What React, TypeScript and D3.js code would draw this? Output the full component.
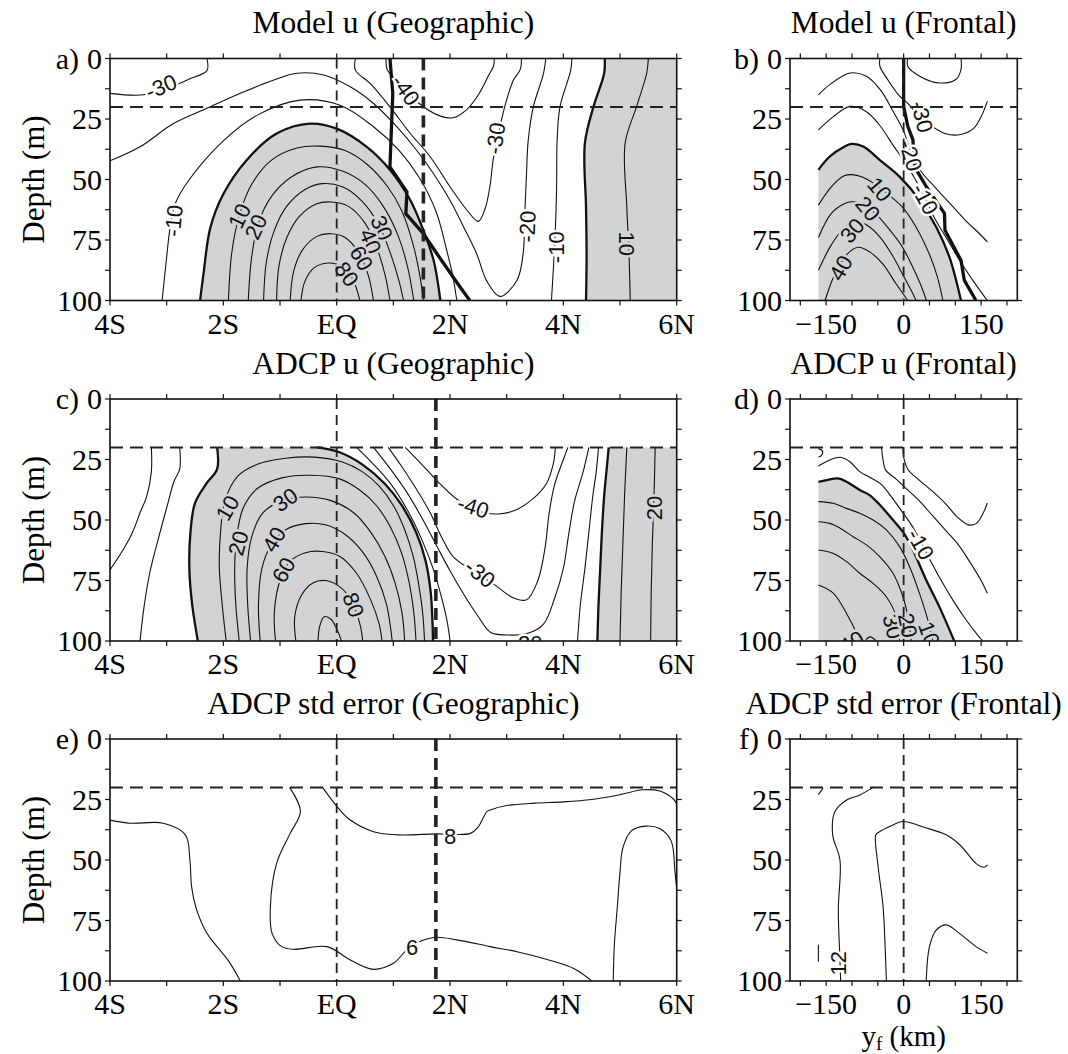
import React from "react";
import * as d3 from "d3";

type Pt = [number, number];

// ---------------- axes data ----------------
const latDomain: Pt = [-4, 6];
const kmDomain: Pt = [-220, 220];
const depthDomain: Pt = [0, 100];
const latTicks = [-4, -3, -2, -1, 0, 1, 2, 3, 4, 5, 6];
const latLabelValues = [-4, -2, 0, 2, 4, 6];
const latLabelTexts = ["4S", "2S", "EQ", "2N", "4N", "6N"];
const kmTicks = [-200, -150, -100, -50, 0, 50, 100, 150, 200];
const kmLabelValues = [-150, 0, 150];
const kmLabelTexts = ["\u2212150", "0", "150"];
const depthTicks = [0, 12.5, 25, 37.5, 50, 62.5, 75, 87.5, 100];
const depthLabelValues = [0, 25, 50, 75, 100];
const mixedLayerDepth = 20;

// ---------------- panel a: Model u (Geographic) ----------------
const aM30L: Pt[] = [[-4, 14.4], [-3.4, 15], [-2.9, 11.5], [-2.6, 8.5], [-2.29, 5], [-2.29, 0]];
const aM20: Pt[] = [[-4, 42.3], [-3.47, 36.5], [-2.88, 26.9], [-2.29, 20.6], [-1.7, 14.4], [-1.11, 8.9], [-0.7, 6.1], [-0.23, 6.8], [0.24, 11.7], [0.65, 18.6], [1.06, 28.2], [1.41, 37.9], [1.71, 47.6], [2.0, 58.6], [2.24, 69.6], [2.47, 80.7], [2.65, 92], [2.88, 98.3], [3.18, 91.7], [3.29, 80.7], [3.32, 64], [3.35, 47.5], [3.38, 33.8], [3.47, 20], [3.65, 6.1], [3.69, 0]];
const aM10L: Pt[] = [[-3.08, 100], [-3.0, 82], [-2.94, 70], [-2.85, 60], [-2.6, 50], [-2.0, 34], [-1.4, 23.4], [-0.65, 17.2], [0.06, 19.3], [0.65, 28.2], [1.1, 38], [1.45, 49], [1.75, 63], [1.95, 80], [2.05, 90], [2.12, 100]];
const a0L: Pt[] = [[-2.41, 100], [-2.35, 89], [-2.23, 70], [-2.0, 56], [-1.59, 42], [-1.06, 31], [-0.47, 26.9], [0.0, 29], [0.53, 36.5], [0.94, 46], [1.3, 58.6], [1.53, 71], [1.71, 83.4], [1.83, 100]];
const a10: Pt[] = [[-1.91, 100], [-1.85, 80], [-1.72, 65], [-1.5, 52], [-1.15, 42], [-0.7, 37], [-0.3, 36.2], [0.15, 38], [0.55, 44], [0.9, 53], [1.15, 63], [1.35, 77], [1.47, 90], [1.53, 100]];
const a20: Pt[] = [[-1.56, 100], [-1.5, 82], [-1.38, 68], [-1.15, 57], [-0.8, 49], [-0.35, 44.8], [0.1, 46.5], [0.5, 52], [0.82, 61], [1.08, 73], [1.25, 86], [1.36, 100]];
const a30: Pt[] = [[-1.29, 100], [-1.24, 84], [-1.1, 71], [-0.88, 61], [-0.55, 54], [-0.25, 51.7], [0.1, 53], [0.45, 59], [0.75, 69], [0.97, 82], [1.1, 92], [1.18, 100]];
const a40: Pt[] = [[-1.06, 100], [-1.02, 86], [-0.88, 74], [-0.65, 65], [-0.35, 60], [-0.1, 59.3], [0.2, 61], [0.5, 68], [0.72, 79], [0.86, 90], [0.94, 100]];
const a60: Pt[] = [[-0.82, 100], [-0.76, 88], [-0.6, 79], [-0.35, 73.5], [-0.1, 72.4], [0.15, 74], [0.38, 80], [0.55, 89], [0.65, 100]];
const a80: Pt[] = [[-0.63, 100], [-0.56, 92], [-0.4, 86.5], [-0.15, 84.5], [0.1, 86], [0.28, 91], [0.41, 100]];
const aM40: Pt[] = [[0.87, 0], [0.9, 5], [1.15, 11], [1.45, 18.5], [1.8, 23.5], [2.05, 24.5], [2.3, 21], [2.5, 15], [2.68, 7], [2.77, 3], [2.78, 0]];
const aM30R: Pt[] = [[0.33, 0], [0.33, 4.8], [0.59, 10.3], [0.94, 20], [1.3, 31], [1.65, 40.6], [2.0, 53], [2.3, 62.7], [2.5, 67.3], [2.62, 62], [2.71, 52], [2.76, 42], [2.88, 28.2], [3.0, 17], [3.12, 8.9], [3.24, 4.5], [3.26, 0]];
const aM10R: Pt[] = [[4.15, 0], [4.13, 4.8], [3.94, 20], [3.89, 33.8], [3.88, 54.5], [3.85, 75.2], [3.79, 100]];
const a0R: Pt[] = [[4.73, 0], [4.72, 6.1], [4.53, 20], [4.38, 35], [4.4, 61.4], [4.41, 82], [4.4, 100]];
const a10R: Pt[] = [[5.5, 0], [5.47, 6.1], [5.29, 20], [5.09, 35], [5.12, 61.4], [5.16, 82], [5.18, 100]];
const aFront: Pt[] = [[0.94, 0], [0.99, 14.4], [0.94, 44.8], [1.24, 55.1], [1.22, 64.1], [1.53, 72.4], [1.77, 80.7], [2.18, 94.5], [2.35, 100]];
const aFrontLat = 1.53;

// ---------------- panel b: Model u (Frontal) ----------------
const bM40: Pt[] = [[8, 0], [8, 3.2], [31, 7.3], [69, 10.1], [101, 8.7], [111, 4.6], [111, 0]];
const bM30: Pt[] = [[-46, 0], [-46, 3.2], [-30, 9], [-10, 15], [10, 19], [30, 24], [55, 28], [80, 31], [108, 31.5], [135, 29], [150, 24], [162, 17.7]];
const bM20: Pt[] = [[-165, 15], [-143, 10.8], [-104, 6], [-72, 7.3], [-45, 13], [-20, 22], [0, 30], [15, 39], [35, 47], [60, 53], [90, 60], [120, 67], [145, 72], [162, 75.8]];
const bM10: Pt[] = [[-165, 29.5], [-136, 24], [-104, 19.8], [-72, 22], [-45, 28], [-20, 36], [0, 42], [20, 49], [40, 57], [60, 66], [85, 75], [110, 84], [135, 92], [155, 98], [162, 100]];
const b0: Pt[] = [[-165, 46], [-143, 40.5], [-115, 36.5], [-101, 35.3], [-78, 36.4], [-46, 42], [-8, 48.8], [31, 58.5], [63, 69.6], [88.5, 82], [111, 100]];
const b10: Pt[] = [[-165, 60.6], [-140, 53], [-115, 48.5], [-100, 48], [-80, 49], [-55, 52], [-25, 57], [0, 62], [25, 70], [50, 81], [65, 90], [76, 100]];
const b20: Pt[] = [[-165, 74], [-140, 64], [-115, 60], [-100, 59.2], [-80, 60], [-55, 64], [-30, 70], [-5, 77], [15, 85], [32, 93], [44, 100]];
const b30: Pt[] = [[-165, 87.5], [-140, 77], [-115, 70], [-91, 67.5], [-70, 69], [-45, 74], [-20, 82], [0, 90], [15, 96], [24, 100]];
const b40: Pt[] = [[-152, 100], [-135, 90], [-110, 81], [-88, 78], [-65, 80], [-40, 85], [-15, 93], [8, 100]];
const bFront: Pt[] = [[0, 0], [0, 19.8], [8, 28], [18, 33.6], [21, 44.7], [44, 53], [79, 64], [80, 71], [111, 83.4], [117.5, 91.7], [140, 100]];
const bDataLeft = -165;

// ---------------- panel c: ADCP u (Geographic) ----------------
const cM20L: Pt[] = [[-3.27, 20], [-3.27, 30], [-3.35, 40], [-3.47, 47], [-3.6, 55], [-3.76, 62], [-4, 70.6]];
const cM10L: Pt[] = [[-2.77, 20], [-2.77, 29], [-2.87, 34], [-3.0, 45], [-3.15, 58], [-3.3, 72], [-3.4, 86], [-3.47, 100]];
const c0L: Pt[] = [[-2.11, 20], [-2.11, 29], [-2.3, 35], [-2.5, 43], [-2.58, 55], [-2.6, 70], [-2.55, 85], [-2.45, 100]];
const c0R: Pt[] = [[1.7, 100], [1.69, 92], [1.66, 80], [1.57, 67], [1.4, 55], [1.15, 44], [0.85, 35], [0.45, 27], [0.05, 22], [-0.35, 20]];
const c10: Pt[] = [[-1.95, 100], [-2.02, 85], [-2.07, 70], [-2.05, 55], [-1.97, 42], [-1.75, 32], [-1.4, 27], [-0.9, 24.5], [-0.4, 24], [0.1, 26], [0.45, 30], [0.75, 36], [1.0, 44], [1.2, 54], [1.35, 65], [1.45, 77], [1.52, 89], [1.55, 100]];
const c20: Pt[] = [[-1.72, 100], [-1.78, 85], [-1.8, 70], [-1.77, 58], [-1.65, 45], [-1.4, 37], [-0.95, 32.5], [-0.45, 31.5], [0.05, 33], [0.4, 37.5], [0.7, 44], [0.95, 53], [1.15, 64], [1.28, 76], [1.36, 88], [1.4, 100]];
const c30: Pt[] = [[-1.52, 100], [-1.57, 85], [-1.58, 70], [-1.5, 57], [-1.3, 47], [-0.95, 42], [-0.55, 40.5], [-0.1, 42], [0.3, 47], [0.6, 55], [0.85, 65], [1.03, 76], [1.15, 88], [1.2, 100]];
const c40: Pt[] = [[-1.35, 100], [-1.38, 85], [-1.32, 70], [-1.15, 60], [-0.9, 54], [-0.55, 51.5], [-0.2, 52], [0.15, 56], [0.45, 63], [0.7, 73], [0.88, 85], [0.98, 100]];
const c60: Pt[] = [[-1.08, 100], [-1.1, 88], [-1.0, 75], [-0.82, 67], [-0.55, 63.5], [-0.25, 63], [0.05, 65], [0.35, 72], [0.6, 83], [0.75, 93], [0.8, 100]];
const c80: Pt[] = [[-0.72, 100], [-0.74, 90], [-0.62, 81], [-0.42, 76], [-0.2, 75], [0.02, 77], [0.2, 81], [0.33, 87], [0.42, 94], [0.46, 100]];
const c100: Pt[] = [[-0.33, 100], [-0.3, 94], [-0.22, 90], [-0.1, 91], [0.0, 95], [0.07, 99], [0.08, 100]];
const cM10: Pt[] = [[0.35, 20], [0.65, 27], [0.95, 35], [1.25, 46], [1.5, 58], [1.7, 70], [1.85, 82], [1.95, 92], [2.0, 100]];
const cM20: Pt[] = [[0.65, 20], [0.95, 29], [1.25, 39], [1.5, 49], [1.75, 60], [2.0, 71], [2.25, 81], [2.5, 90], [2.72, 96.5], [3.0, 97.5], [3.35, 97], [3.65, 93], [3.85, 82], [4.0, 70], [4.1, 55], [4.2, 42], [4.35, 30], [4.45, 20]];
const cM30: Pt[] = [[0.91, 20], [1.15, 28], [1.4, 37], [1.65, 47], [1.85, 57], [2.05, 65], [2.4, 71], [2.8, 77], [3.1, 82], [3.35, 83], [3.55, 75], [3.68, 61], [3.75, 47], [3.85, 35], [4.0, 25], [4.08, 20]];
const cM40: Pt[] = [[1.21, 20], [1.5, 27], [1.78, 34], [2.1, 41], [2.45, 46], [2.85, 47.5], [3.15, 46], [3.45, 41.5], [3.7, 35], [3.82, 27], [3.86, 20]];
const cM10R: Pt[] = [[4.25, 100], [4.3, 85], [4.38, 70], [4.45, 55], [4.52, 40], [4.58, 30], [4.62, 20]];
const c0R2: Pt[] = [[4.6, 100], [4.62, 85], [4.65, 70], [4.68, 55], [4.72, 40], [4.76, 30], [4.8, 20]];
const c10R: Pt[] = [[5.0, 100], [5.02, 80], [5.05, 60], [5.08, 40], [5.12, 20]];
const c20R: Pt[] = [[5.54, 100], [5.55, 80], [5.57, 60], [5.6, 40], [5.62, 20]];
const cFrontLat = 1.75;

// ---------------- panel d: ADCP u (Frontal) ----------------
const dM30: Pt[] = [[-1.3, 20], [0, 24], [8, 29], [30, 33.5], [55, 38], [80, 43], [105, 49], [125, 52], [140, 51.5], [152, 48], [162, 43]];
const dM20: Pt[] = [[-43, 20], [-40, 25], [-35, 29.3], [-15, 33], [5, 37], [30, 42], [55, 48], [80, 54], [105, 60], [130, 68], [150, 75], [162, 80.3]];
const dM10: Pt[] = [[-165, 27.7], [-143, 25.2], [-123, 24.1], [-104, 25.9], [-85, 30], [-66, 32.3], [-45, 35], [-25, 40], [-5, 46], [15, 52], [31, 58], [50, 66], [70, 74], [95, 83], [120, 91], [145, 98], [153, 100]];
const dCurl: Pt[] = [[-165, 20.5], [-157, 21.5], [-160, 23.5], [-165, 24]];
const d0: Pt[] = [[-165, 34.2], [-149, 33.5], [-127, 32.8], [-110.5, 34.2], [-85, 37.6], [-66, 39.7], [-46, 43.8], [-20.6, 50], [0.6, 55.5], [18, 62.4], [43.6, 74.8], [69, 85.8], [98, 100]];
const d10: Pt[] = [[-165, 42.4], [-136, 43.1], [-110.5, 45.2], [-85, 47.2], [-59, 50], [-33.5, 54.1], [-7.8, 61], [11.5, 69.3], [30.7, 80.3], [46.8, 91.3], [56.4, 100]];
const d20: Pt[] = [[-165, 50.7], [-142.7, 51.4], [-123, 53.4], [-97.7, 56.9], [-72, 60.3], [-46, 65.2], [-20.6, 72], [-1.4, 81.7], [8.3, 90], [14.7, 100]];
const d30: Pt[] = [[-165, 62.4], [-136, 63.8], [-110.5, 67.2], [-85, 72], [-59, 76.2], [-33.5, 81.7], [-14.2, 90], [-7.8, 100]];
const d40: Pt[] = [[-165, 76.9], [-136, 80.3], [-110.5, 88.6], [-91, 96.8], [-85, 100]];
const d50: Pt[] = [[-75, 100], [-65, 98.3], [-53, 100]];
const dDataLeft = -165;

// ---------------- panel e: ADCP std error (Geographic) ----------------
const eL1: Pt[] = [[-4, 33.5], [-3.64, 34.8], [-3.06, 34.8], [-2.67, 39.6], [-2.59, 50], [-2.56, 61], [-2.47, 70.6], [-2.29, 80.3], [-2.11, 85.8], [-1.9, 92], [-1.7, 100]];
const eL2: Pt[] = [[-0.83, 20], [-0.64, 30], [-0.82, 39], [-1.06, 51.4], [-1.17, 69.3], [-1.14, 80.3], [-0.97, 85.8], [-0.76, 86.9], [-0.17, 85.8], [0.24, 91.3], [0.65, 95.2], [1.0, 92.7], [1.3, 85.8], [1.71, 82], [2.12, 83], [2.71, 85.8], [3.2, 88], [3.7, 91], [4.2, 95], [4.5, 100]];
const eL3: Pt[] = [[-0.25, 20], [0.03, 28.6], [0.24, 33.5], [0.65, 38.3], [1.06, 39.6], [1.77, 39.2], [2.36, 39], [2.5, 36.2], [2.65, 30], [2.71, 29.3], [3.0, 27.5], [3.5, 26.5], [4.0, 26], [4.5, 25], [5.0, 23], [5.4, 21], [5.7, 21.5], [5.95, 25], [6, 27]];
const eL4: Pt[] = [[4.88, 100], [4.9, 85], [4.95, 70], [5.0, 55], [5.05, 45], [5.2, 38], [5.45, 36], [5.7, 37], [5.9, 42], [5.97, 55], [6, 62]];

// ---------------- panel f: ADCP std error (Frontal) ----------------
const fF1: Pt[] = [[-59, 20], [-84.7, 23.1], [-110.4, 25.2], [-133, 30], [-137.4, 39.6], [-123.3, 50], [-126.5, 70.6], [-123.3, 91.3], [-122, 100]];
const fF2: Pt[] = [[-33.4, 100], [-36, 85], [-39.8, 69.3], [-49.4, 52.7], [-53.9, 39.6], [-48, 38.5], [-25, 36], [-1.3, 34.1], [40, 36.5], [82.3, 39.6], [110, 44], [140, 51.4], [155, 53], [162.5, 52]];
const fF3: Pt[] = [[43.7, 100], [50, 85.8], [63, 79], [82.3, 76.8], [108, 80.3], [140, 85.8], [162.5, 88.5]];
const fTickTop: Pt[] = [[-165, 23], [-156, 20.3]];
const fTickBottom: Pt[] = [[-165, 85], [-165, 92]];

// ---------------- configuration ----------------
interface Line { pts: Pt[]; w: number; smooth?: boolean }
interface Lab { x: number; y: number; t: string; a: number; g?: boolean }
interface FillPart { pts: Pt[]; smooth: boolean }
interface VLine { x: number; w: number; dash: string }
interface PanelCfg {
  key: string; letter: string; title: string; frontal: boolean; row: number;
  lines: Line[]; fills: FillPart[][]; labels: Lab[]; vlines: VLine[]; front?: Pt[];
}

const THIN = 1.1, THICK = 2.3;
const eqDash = "10,6";
const thickDash = "12,7";

const panels: PanelCfg[] = [
  {
    key: "a", letter: "a)", title: "Model u (Geographic)", frontal: false, row: 0,
    fills: [
      [{ pts: a0L, smooth: true }],
      [{ pts: a0R, smooth: true }, { pts: [[latDomain[1], depthDomain[1]], [latDomain[1], depthDomain[0]]], smooth: false }],
    ],
    lines: [
      { pts: aM30L, w: THIN }, { pts: aM20, w: THIN }, { pts: aM10L, w: THIN }, { pts: a0L, w: THICK },
      { pts: a10, w: THIN }, { pts: a20, w: THIN }, { pts: a30, w: THIN }, { pts: a40, w: THIN },
      { pts: a60, w: THIN }, { pts: a80, w: THIN }, { pts: aM40, w: THIN }, { pts: aM30R, w: THIN },
      { pts: aM10R, w: THIN }, { pts: a0R, w: THICK }, { pts: a10R, w: THIN },
    ],
    labels: [
      { x: -3.1, y: 11.5, t: "-30", a: -22 }, { x: -2.88, y: 67, t: "-10", a: -85 },
      { x: -1.72, y: 65, t: "10", a: -65, g: true }, { x: -1.43, y: 69.5, t: "20", a: -65, g: true },
      { x: 0.8, y: 70, t: "30", a: 68, g: true }, { x: 0.6, y: 75.5, t: "40", a: 68, g: true },
      { x: 0.44, y: 82.5, t: "60", a: 60, g: true }, { x: 0.18, y: 89, t: "80", a: 55, g: true },
      { x: 1.22, y: 13, t: "-40", a: 55 }, { x: 2.8, y: 33, t: "-30", a: -82 },
      { x: 3.36, y: 69.5, t: "-20", a: -88 }, { x: 3.88, y: 78, t: "-10", a: -90 },
      { x: 5.13, y: 76.5, t: "10", a: 90, g: true },
    ],
    vlines: [{ x: 0, w: 1.8, dash: eqDash }, { x: aFrontLat, w: 3.6, dash: thickDash }],
    front: aFront,
  },
  {
    key: "b", letter: "b)", title: "Model u (Frontal)", frontal: true, row: 0,
    fills: [[{ pts: b0, smooth: true }, { pts: [[bDataLeft, depthDomain[1]]], smooth: false }]],
    lines: [
      { pts: bM40, w: THIN }, { pts: bM30, w: THIN }, { pts: bM20, w: THIN }, { pts: bM10, w: THIN },
      { pts: b0, w: THICK }, { pts: b10, w: THIN }, { pts: b20, w: THIN }, { pts: b30, w: THIN }, { pts: b40, w: THIN },
    ],
    labels: [
      { x: 36, y: 24, t: "-30", a: 75 }, { x: 14, y: 40, t: "-20", a: 72 }, { x: 42, y: 58, t: "-10", a: 62 },
      { x: -46, y: 54, t: "10", a: 50, g: true }, { x: -69, y: 62, t: "20", a: 50, g: true },
      { x: -100, y: 71, t: "30", a: -50, g: true }, { x: -122, y: 86.5, t: "40", a: -60, g: true },
    ],
    vlines: [{ x: 0, w: 1.8, dash: eqDash }],
    front: bFront,
  },
  {
    key: "c", letter: "c)", title: "ADCP u (Geographic)", frontal: false, row: 1,
    fills: [
      [{ pts: c0L, smooth: true }, { pts: c0R, smooth: true }],
      [{ pts: c0R2, smooth: true }, { pts: [[latDomain[1], mixedLayerDepth], [latDomain[1], depthDomain[1]]], smooth: false }],
    ],
    lines: [
      { pts: cM20L, w: THIN }, { pts: cM10L, w: THIN }, { pts: c0L, w: THICK }, { pts: c0R, w: THICK },
      { pts: c10, w: THIN }, { pts: c20, w: THIN }, { pts: c30, w: THIN }, { pts: c40, w: THIN },
      { pts: c60, w: THIN }, { pts: c80, w: THIN }, { pts: c100, w: THIN },
      { pts: cM10, w: THIN }, { pts: cM20, w: THIN }, { pts: cM30, w: THIN }, { pts: cM40, w: THIN },
      { pts: cM10R, w: THIN }, { pts: c0R2, w: THICK }, { pts: c10R, w: THIN }, { pts: c20R, w: THIN },
    ],
    labels: [
      { x: -1.93, y: 45, t: "10", a: -60, g: true }, { x: -1.74, y: 59.6, t: "20", a: -75, g: true },
      { x: -0.91, y: 41.5, t: "30", a: -35, g: true }, { x: -1.11, y: 58, t: "40", a: -60, g: true },
      { x: -0.94, y: 70.6, t: "60", a: -60, g: true }, { x: 0.3, y: 85, t: "80", a: 70, g: true },
      { x: 2.41, y: 44.5, t: "-40", a: 18 }, { x: 2.53, y: 72, t: "-30", a: 38 },
      { x: 3.35, y: 101, t: "-20", a: 0 }, { x: 5.6, y: 45, t: "20", a: -90, g: true },
    ],
    vlines: [{ x: 0, w: 1.8, dash: eqDash }, { x: cFrontLat, w: 3.6, dash: thickDash }],
  },
  {
    key: "d", letter: "d)", title: "ADCP u (Frontal)", frontal: true, row: 1,
    fills: [[{ pts: d0, smooth: true }, { pts: [[dDataLeft, depthDomain[1]]], smooth: false }]],
    lines: [
      { pts: dM30, w: THIN }, { pts: dM20, w: THIN }, { pts: dM10, w: THIN }, { pts: dCurl, w: THIN }, { pts: d0, w: THICK },
      { pts: d10, w: THIN }, { pts: d20, w: THIN }, { pts: d30, w: THIN }, { pts: d40, w: THIN }, { pts: d50, w: THIN },
    ],
    labels: [
      { x: 33, y: 60, t: "-10", a: 60 }, { x: -20.6, y: 94, t: "30", a: 75, g: true },
      { x: 8.3, y: 93.5, t: "20", a: 78, g: true }, { x: 50, y: 97, t: "10", a: 70, g: true },
      { x: -101, y: 100.5, t: "40", a: -30, g: true },
    ],
    vlines: [{ x: 0, w: 1.8, dash: eqDash }],
  },
  {
    key: "e", letter: "e)", title: "ADCP std error (Geographic)", frontal: false, row: 2,
    fills: [],
    lines: [{ pts: eL1, w: THIN }, { pts: eL2, w: THIN }, { pts: eL3, w: THIN }, { pts: eL4, w: THIN }],
    labels: [{ x: 1.33, y: 85.8, t: "6", a: 0 }, { x: 2.0, y: 40, t: "8", a: 0 }],
    vlines: [{ x: 0, w: 1.8, dash: eqDash }, { x: cFrontLat, w: 3.6, dash: thickDash }],
  },
  {
    key: "f", letter: "f)", title: "ADCP std error (Frontal)", frontal: true, row: 2,
    fills: [],
    lines: [{ pts: fF1, w: THIN }, { pts: fF2, w: THIN }, { pts: fF3, w: THIN }, { pts: fTickTop, w: THIN, smooth: false }, { pts: fTickBottom, w: THIN, smooth: false }],
    labels: [{ x: -126.5, y: 92.7, t: "12", a: -90 }],
    vlines: [{ x: 0, w: 1.8, dash: eqDash }],
  },
];

// ---------------- layout ----------------
const W = 1068, H = 1054;
const rowsTop = [58.5, 399, 739];
const panelH = 242;
const geoRange: Pt = [110, 676.7];
const froRange: Pt = [790, 1017.3];
const GRAY = "#d2d3d5";
const SERIF = "'Liberation Serif', 'Times New Roman', serif";
const SANS = "'Liberation Sans', Arial, Helvetica, sans-serif";

function PanelView({ p }: { p: PanelCfg }) {
  const top = rowsTop[p.row];
  const bottom = top + panelH;
  const xr = p.frontal ? froRange : geoRange;
  const x = d3.scaleLinear().domain(p.frontal ? kmDomain : latDomain).range(xr);
  const y = d3.scaleLinear().domain(depthDomain).range([top, bottom]);
  const smooth = d3.line<Pt>().x((d) => x(d[0])).y((d) => y(d[1])).curve(d3.curveCatmullRom.alpha(0.5));
  const straight = d3.line<Pt>().x((d) => x(d[0])).y((d) => y(d[1]));
  const clipId = `clip-${p.key}`;
  const xTicks = p.frontal ? kmTicks : latTicks;
  const xLabVals = p.frontal ? kmLabelValues : latLabelValues;
  const xLabTxt = p.frontal ? kmLabelTexts : latLabelTexts;
  const tickLen = 5;

  const fillPath = (parts: FillPart[]) =>
    parts
      .map((part, i) => {
        const s = (part.smooth ? smooth : straight)(part.pts) || "";
        return i === 0 ? s : "L" + s.slice(1);
      })
      .join("") + "Z";

  return (
    <g>
      <defs>
        <clipPath id={clipId}>
          <rect x={xr[0]} y={top} width={xr[1] - xr[0]} height={panelH} />
        </clipPath>
      </defs>
      <text x={(xr[0] + xr[1]) / 2} y={top - 25.5} textAnchor="middle" fontFamily={SERIF} fontSize={31.5}>
        {p.title}
      </text>
      <g clipPath={`url(#${clipId})`}>
        {p.fills.map((f, i) => (
          <path key={i} d={fillPath(f)} fill={GRAY} stroke="none" />
        ))}
        {p.lines.map((l, i) => (
          <path key={i} d={(l.smooth === false ? straight : smooth)(l.pts) || ""} fill="none" stroke="#111" strokeWidth={l.w} strokeLinejoin="round" />
        ))}
        {p.front && <path d={straight(p.front) || ""} fill="none" stroke="#111" strokeWidth={3.3} strokeLinejoin="round" />}
        {p.labels.map((l, i) => (
          <text
            key={i}
            transform={`translate(${x(l.x)},${y(l.y)}) rotate(${l.a})`}
            textAnchor="middle"
            dy="0.36em"
            fontFamily={SANS}
            fontSize={22}
            fill="#111"
            stroke={l.g ? GRAY : "#fff"}
            strokeWidth={5}
            paintOrder="stroke"
          >
            {l.t}
          </text>
        ))}
      </g>
      {/* dashed reference lines */}
      <line x1={xr[0]} x2={xr[1]} y1={y(mixedLayerDepth)} y2={y(mixedLayerDepth)} stroke="#222" strokeWidth={2} strokeDasharray="13,7" />
      {p.vlines.map((v, i) => (
        <line key={i} x1={x(v.x)} x2={x(v.x)} y1={top} y2={bottom} stroke="#222" strokeWidth={v.w} strokeDasharray={v.dash} />
      ))}
      {/* frame */}
      <rect x={xr[0]} y={top} width={xr[1] - xr[0]} height={panelH} fill="none" stroke="#111" strokeWidth={1.6} />
      {/* ticks */}
      {xTicks.map((t) => (
        <g key={"xt" + t}>
          <line x1={x(t)} x2={x(t)} y1={top} y2={top - tickLen} stroke="#111" strokeWidth={1.2} />
          <line x1={x(t)} x2={x(t)} y1={bottom} y2={bottom + tickLen} stroke="#111" strokeWidth={1.2} />
        </g>
      ))}
      {depthTicks.map((t) => (
        <g key={"yt" + t}>
          <line x1={xr[0]} x2={xr[0] - tickLen} y1={y(t)} y2={y(t)} stroke="#111" strokeWidth={1.2} />
          <line x1={xr[1]} x2={xr[1] + tickLen} y1={y(t)} y2={y(t)} stroke="#111" strokeWidth={1.2} />
        </g>
      ))}
      {xLabVals.map((v, i) => (
        <text key={"xl" + v} x={x(v)} y={bottom + 33} textAnchor="middle" fontFamily={SERIF} fontSize={30}>
          {xLabTxt[i]}
        </text>
      ))}
      {depthLabelValues.map((v) => (
        <text key={"yl" + v} x={xr[0] - 8} y={y(v)} dy="0.34em" textAnchor="end" fontFamily={SERIF} fontSize={30}>
          {v}
        </text>
      ))}
      <text x={xr[0] - 31} y={top} dy="0.34em" textAnchor="end" fontFamily={SERIF} fontSize={30}>
        {p.letter}
      </text>
      {!p.frontal && (
        <text transform={`translate(44,${(top + bottom) / 2}) rotate(-90)`} textAnchor="middle" fontFamily={SERIF} fontSize={31}>
          Depth (m)
        </text>
      )}
    </g>
  );
}

export default function App() {
  return (
    <svg width={W} height={H} viewBox={`0 0 ${W} ${H}`} style={{ position: "absolute", left: 0, top: 0, background: "#fff" }}>
      <rect x={0} y={0} width={W} height={H} fill="#fff" />
      {panels.map((p) => (
        <PanelView key={p.key} p={p} />
      ))}
      <text x={(froRange[0] + froRange[1]) / 2} y={1046} textAnchor="middle" fontFamily={SERIF} fontSize={29}>
        <tspan>y</tspan>
        <tspan dy={4} fontSize={19}>f</tspan>
        <tspan dy={-4}> (km)</tspan>
      </text>
    </svg>
  );
}
